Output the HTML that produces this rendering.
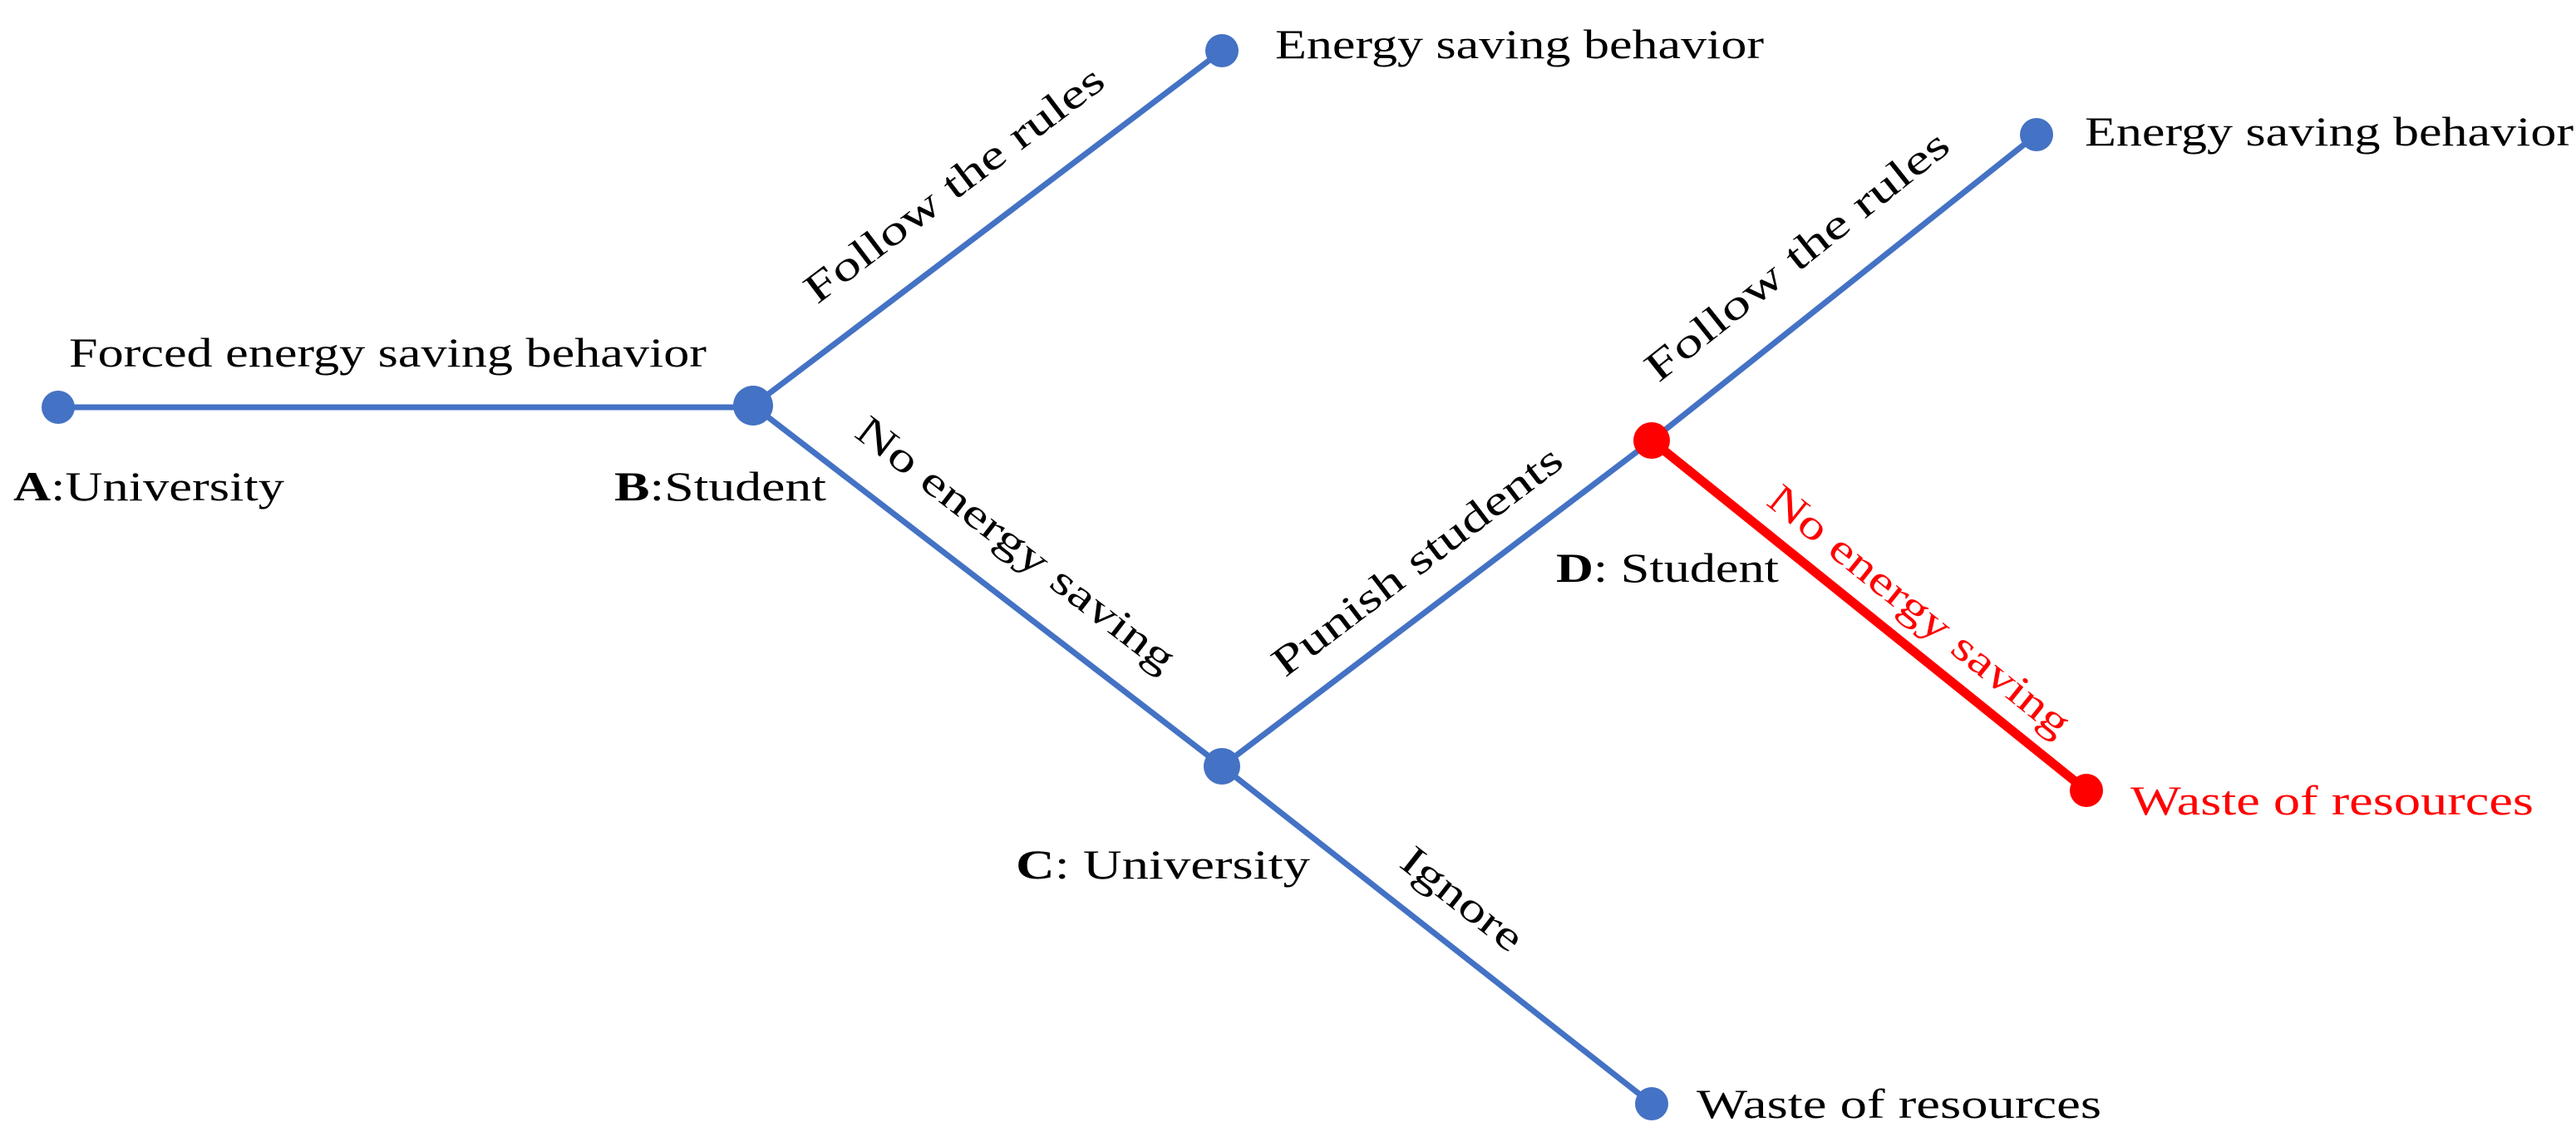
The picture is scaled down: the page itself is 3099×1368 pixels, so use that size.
<!DOCTYPE html>
<html><head><meta charset="utf-8"><style>
html,body{margin:0;padding:0;background:#fff;}
svg{display:block;}
text{font-family:"Liberation Serif",serif;font-size:50px;fill:#000;}
</style></head><body>
<svg width="3099" height="1368" viewBox="0 0 3099 1368" xmlns="http://www.w3.org/2000/svg">
<g stroke="#4472C4" stroke-width="7" fill="none" stroke-linecap="round">
<line x1="70" y1="490" x2="906" y2="490"/>
<line x1="906" y1="488" x2="1470" y2="61"/>
<line x1="906" y1="488" x2="1470" y2="922"/>
<line x1="1470" y1="922" x2="1987" y2="530"/>
<line x1="1987" y1="530" x2="2450" y2="162"/>
<line x1="1470" y1="922" x2="1987" y2="1328"/>
</g>
<line x1="1987" y1="530" x2="2510" y2="951" stroke="#FF0000" stroke-width="11" stroke-linecap="round"/>
<g fill="#4472C4">
<circle cx="70" cy="490" r="20"/>
<circle cx="906" cy="488" r="24"/>
<circle cx="1470" cy="61" r="20"/>
<circle cx="1470" cy="922" r="22"/>
<circle cx="2450" cy="162" r="20"/>
<circle cx="1987" cy="1328" r="20"/>
</g>
<g fill="#FF0000">
<circle cx="1987" cy="530" r="22"/>
<circle cx="2510" cy="951" r="20"/>
</g>
<text x="83" y="441" textLength="767" lengthAdjust="spacingAndGlyphs">Forced energy saving behavior</text>
<text x="16" y="602" textLength="326" lengthAdjust="spacingAndGlyphs"><tspan font-weight="bold">A</tspan>:University</text>
<text x="739" y="602" textLength="255" lengthAdjust="spacingAndGlyphs"><tspan font-weight="bold">B</tspan>:Student</text>
<text x="1534" y="70" textLength="588" lengthAdjust="spacingAndGlyphs">Energy saving behavior</text>
<text x="2508" y="175" textLength="588" lengthAdjust="spacingAndGlyphs">Energy saving behavior</text>
<text x="1222" y="1057" textLength="354" lengthAdjust="spacingAndGlyphs"><tspan font-weight="bold">C</tspan>: University</text>
<text x="1872" y="700" textLength="268" lengthAdjust="spacingAndGlyphs"><tspan font-weight="bold">D</tspan>: Student</text>
<text x="2563" y="980" textLength="485" lengthAdjust="spacingAndGlyphs" style="fill:#FF0000">Waste of resources</text>
<text x="2041" y="1345" textLength="487" lengthAdjust="spacingAndGlyphs">Waste of resources</text>
<g text-anchor="middle">
<text transform="translate(1148,222) rotate(-37.1)" y="16" textLength="438" lengthAdjust="spacingAndGlyphs">Follow the rules</text>
<text transform="translate(1222,655) rotate(37.6)" y="16" textLength="470" lengthAdjust="spacingAndGlyphs">No energy saving</text>
<text transform="translate(1705,675) rotate(-37.2)" y="16" textLength="424" lengthAdjust="spacingAndGlyphs">Punish students</text>
<text transform="translate(2162,308) rotate(-38.5)" y="16" textLength="452" lengthAdjust="spacingAndGlyphs">Follow the rules</text>
<text transform="translate(2309,735) rotate(38.8)" y="16" textLength="451" lengthAdjust="spacingAndGlyphs" style="fill:#FF0000">No energy saving</text>
<text transform="translate(1759,1082) rotate(38.1)" y="16" textLength="172" lengthAdjust="spacingAndGlyphs">Ignore</text>
</g>
</svg>
</body></html>
